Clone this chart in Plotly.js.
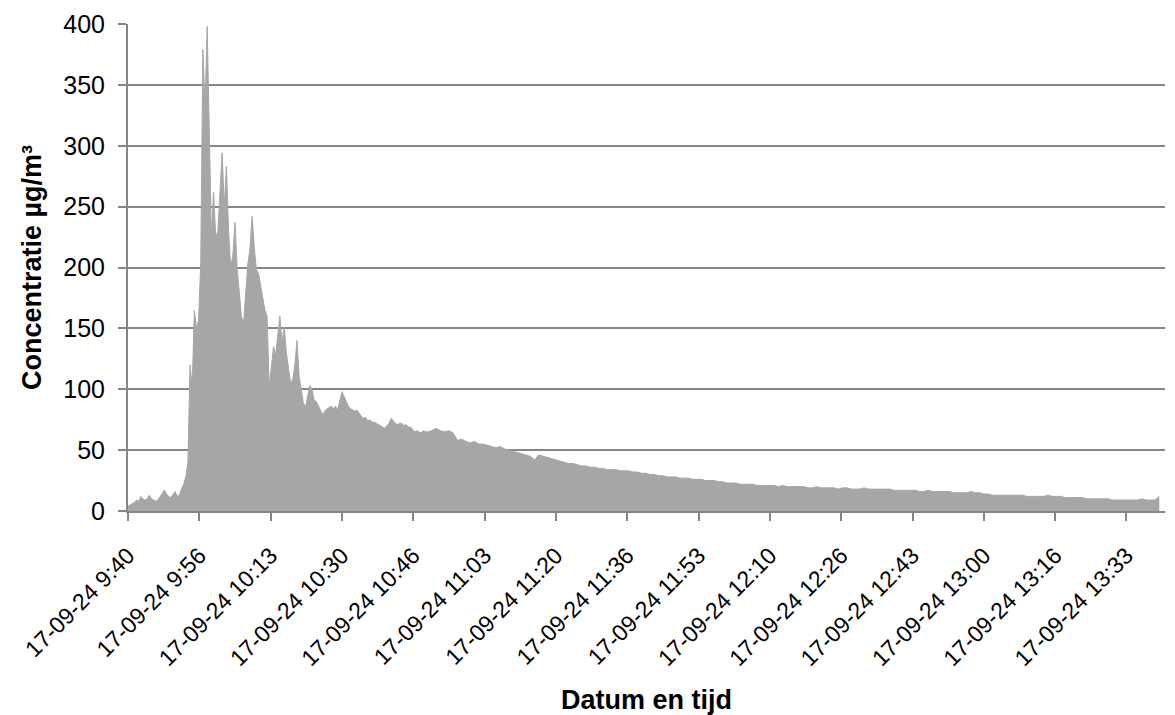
<!DOCTYPE html>
<html>
<head>
<meta charset="utf-8">
<script src="https://cdn.plot.ly/plotly-3.0.1.min.js"></script>
<style>
  html, body { margin: 0; padding: 0; background: #ffffff; }
  #chart { width: 1175px; height: 715px; }
</style>
</head>
<body>
<div id="chart"></div>
<script>
// Measurement date
const measurementDate = '2024-09-17';

// Segment 1: 30-second samples starting 09:40:00 (concentration in µg/m³)
const peakStart = '09:40:00';
const peakStepSeconds = 30;
const peakValues = [
  4, 5, 6, 7, 9, 8, 12, 10, 9, 10,
  13, 10, 9, 8, 9, 12, 15, 17, 14, 12,
  11, 14, 16, 12, 13, 18, 22, 28, 40, 120,
  102, 165, 150, 157, 205, 379, 330, 398, 300, 225,
  262, 225, 230, 260, 294, 250, 283, 230, 200, 210,
  237, 200, 181, 160, 154, 175, 203, 215, 242, 217,
  198, 195, 185, 176, 165, 160, 102, 118, 135, 128,
  145, 160, 138, 151, 130, 116, 105, 108, 120, 140,
  110, 100, 88, 86, 95, 103, 100, 91, 90, 86,
  82, 79, 82, 84, 85, 86, 84, 86, 83, 90,
  98, 94, 90, 86, 84, 83, 82, 83, 80, 78,
  76, 77, 74, 75, 73, 73, 72, 71, 70, 69,
  68, 70, 72, 76, 74, 72, 71, 72, 72, 70,
  71, 69, 69, 67, 65, 66, 65, 64, 66, 65,
  65
];

// Segment 2: 1-minute samples starting 10:51:00 (concentration in µg/m³)
const tailStart = '10:51:00';
const tailStepSeconds = 60;
const tailValues = [
  66, 68, 66, 65, 66, 64, 58, 59, 57, 56,
  57, 55, 55, 54, 53, 52, 53, 51, 50, 49,
  48, 47, 46, 45, 42, 46, 45, 44, 43, 42,
  41, 40, 39, 39, 38, 37, 37, 36, 36, 35,
  35, 34, 34, 34, 33, 33, 33, 32, 32, 31,
  31, 30, 30, 29, 29, 28, 28, 28, 27, 27,
  27, 26, 26, 26, 25, 25, 25, 24, 24, 23,
  23, 23, 22, 22, 22, 22, 21, 21, 21, 21,
  21, 20, 21, 20, 20, 20, 20, 20, 19, 19,
  20, 19, 19, 19, 19, 18, 19, 19, 18, 18,
  18, 19, 18, 18, 18, 18, 18, 18, 17, 17,
  17, 17, 17, 17, 16, 16, 17, 16, 16, 16,
  16, 16, 15, 15, 15, 15, 16, 15, 15, 14,
  14, 13, 13, 13, 13, 13, 13, 13, 13, 12,
  12, 12, 12, 12, 13, 12, 12, 12, 11, 11,
  11, 11, 11, 10, 10, 10, 10, 10, 10, 9,
  9, 9, 9, 9, 9, 9, 10, 9, 9, 9,
  12
];

// Tick positions (times) and labels on the category axis
const tickTimes = ['09:40:00', '09:56:40', '10:13:20', '10:30:00', '10:46:40',
  '11:03:20', '11:20:00', '11:36:40', '11:53:20', '12:10:00',
  '12:26:40', '12:43:20', '13:00:00', '13:16:40', '13:33:20'];
const tickLabels = ['17-09-24 9:40', '17-09-24 9:56', '17-09-24 10:13', '17-09-24 10:30',
  '17-09-24 10:46', '17-09-24 11:03', '17-09-24 11:20', '17-09-24 11:36',
  '17-09-24 11:53', '17-09-24 12:10', '17-09-24 12:26', '17-09-24 12:43',
  '17-09-24 13:00', '17-09-24 13:16', '17-09-24 13:33'];
const axisEnd = '13:42:20';

function toSeconds(hms) {
  const p = hms.split(':').map(Number);
  return p[0] * 3600 + p[1] * 60 + p[2];
}
function pad(n) { return String(n).padStart(2, '0'); }
function fromSeconds(s) {
  const h = Math.floor(s / 3600), m = Math.floor((s % 3600) / 60), sec = s % 60;
  return measurementDate + ' ' + pad(h) + ':' + pad(m) + ':' + pad(sec);
}

const xs = [], ys = [];
peakValues.forEach((v, i) => { xs.push(fromSeconds(toSeconds(peakStart) + i * peakStepSeconds)); ys.push(v); });
tailValues.forEach((v, i) => { xs.push(fromSeconds(toSeconds(tailStart) + i * tailStepSeconds)); ys.push(v); });

const fontFamily = '"Liberation Sans", Arial, sans-serif';
const axisGray = '#868686';
const fillGray = '#a6a6a6';

const trace = {
  x: xs,
  y: ys,
  type: 'scatter',
  mode: 'lines',
  fill: 'tozeroy',
  fillcolor: fillGray,
  line: { color: fillGray, width: 1 },
  hoverinfo: 'x+y',
  showlegend: false
};

const layout = {
  width: 1175,
  height: 715,
  margin: { l: 128, r: 10, t: 24, b: 204 },
  paper_bgcolor: '#ffffff',
  plot_bgcolor: '#ffffff',
  font: { family: fontFamily, color: '#000000' },
  showlegend: false,
  xaxis: {
    type: 'date',
    range: [measurementDate + ' ' + tickTimes[0], measurementDate + ' ' + axisEnd],
    tickmode: 'array',
    tickvals: tickTimes.map(t => measurementDate + ' ' + t),
    ticktext: tickLabels,
    tickangle: -45,
    ticks: 'outside',
    ticklen: 8,
    tickwidth: 2,
    tickcolor: axisGray,
    ticklabelstandoff: 12,
    ticklabelshift: 0,
    showline: true,
    linecolor: axisGray,
    linewidth: 2,
    showgrid: false,
    zeroline: false,
    tickfont: { family: fontFamily, size: 23, color: '#000000' },
    title: { text: '<b>Datum en tijd</b>', font: { family: fontFamily, size: 27, color: '#000000' }, standoff: 30 }
  },
  yaxis: {
    range: [0, 400],
    tickmode: 'linear',
    tick0: 0,
    dtick: 50,
    ticks: 'outside',
    ticklen: 8,
    tickwidth: 2,
    tickcolor: axisGray,
    ticklabelstandoff: 8,
    showline: true,
    linecolor: axisGray,
    linewidth: 2,
    showgrid: true,
    gridcolor: axisGray,
    gridwidth: 2,
    zeroline: false,
    tickfont: { family: fontFamily, size: 25, color: '#000000' },
    title: { text: '<b>Concentratie µg/m³</b>', font: { family: fontFamily, size: 27, color: '#000000' }, standoff: 14 }
  }
};

Plotly.newPlot('chart', [trace], layout, { displayModeBar: false, staticPlot: true });
</script>
</body>
</html>
